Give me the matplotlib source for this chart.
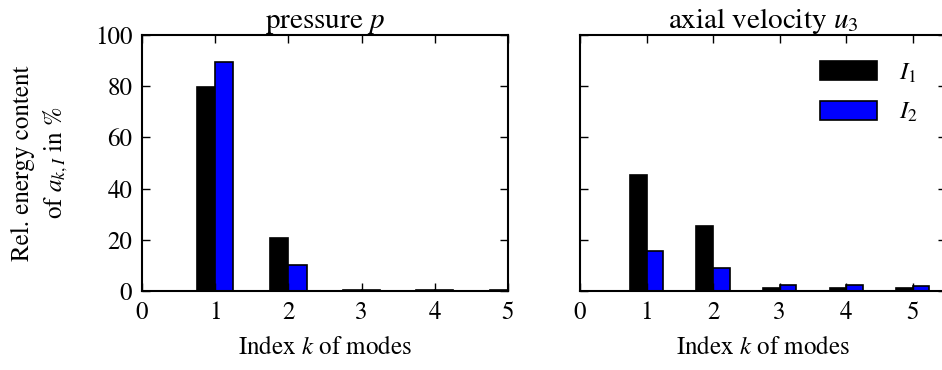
import numpy as np
import matplotlib
matplotlib.use("Agg")
import matplotlib.pyplot as plt

plt.rcParams['font.family'] = ['STIXGeneral', 'DejaVu Serif']
plt.rcParams['mathtext.fontset'] = 'stix'

# relative energy content of the first modes, in percent
modes = np.array([1, 2, 3, 4, 5])
p_I1 = [79.6, 20.7, 0.3, 0.2, 0.2]
p_I2 = [89.4, 10.3, 0.2, 0.2, 0.3]
u3_I1 = [45.5, 25.5, 1.3, 1.2, 1.0]
u3_I2 = [15.8, 8.8, 2.4, 2.3, 1.9]

width = 0.25
fs = 18

fig = plt.figure(figsize=(9.42, 3.70), dpi=100)
ax1 = fig.add_axes([0.1507, 0.2135, 0.3885, 0.692])
ax2 = fig.add_axes([0.6157, 0.2135, 0.3885, 0.692])

for ax, a, b, title, xmax in [(ax1, p_I1, p_I2, 'pressure $p$', 5.0),
                              (ax2, u3_I1, u3_I2, 'axial velocity $u_3$', 5.5)]:
    ax.bar(modes - width, a, width, align='edge', color='black',
           edgecolor='black', linewidth=1.2, label='$I_1$')
    ax.bar(modes, b, width, align='edge', color='blue',
           edgecolor='black', linewidth=1.2, label='$I_2$')
    ax.set_xlim(0, xmax)
    ax.set_ylim(0, 100)
    ax.set_xticks([0, 1, 2, 3, 4, 5])
    ax.set_yticks([0, 20, 40, 60, 80, 100])
    ax.tick_params(direction='in', top=True, right=True, labelsize=fs,
                   length=6, width=1.0, pad=7)
    for s in ax.spines.values():
        s.set_linewidth(1.5)
    ax.set_title(title, fontsize=21, pad=5)
    ax.set_xlabel('Index $k$ of modes', fontsize=fs, labelpad=8)

ax2.tick_params(labelleft=False)
ax1.set_ylabel('Rel. energy content\nof $a_{k,I}$ in %', fontsize=fs,
               linespacing=1.3, labelpad=18)

ax2.legend(loc='upper right', bbox_to_anchor=(0.985, 0.985), frameon=False,
           fontsize=fs, handlelength=2.25, handleheight=0.8,
           handletextpad=0.9, labelspacing=0.6)

plt.savefig('out.png', dpi=100)
